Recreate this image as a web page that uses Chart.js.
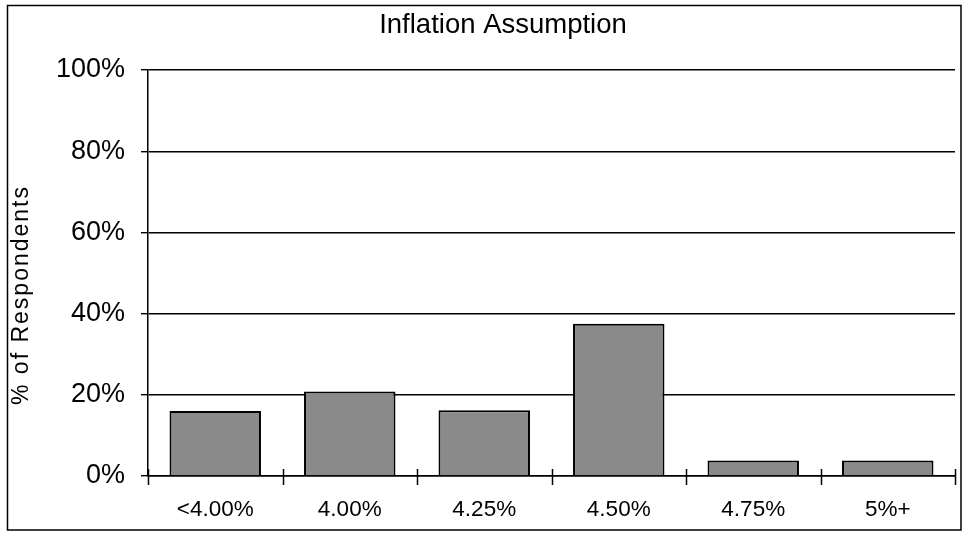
<!DOCTYPE html>
<html>
<head>
<meta charset="utf-8">
<script src="https://cdn.jsdelivr.net/npm/chart.js@4/dist/chart.umd.min.js"></script>
<style>
  html, body { margin: 0; padding: 0; background: #ffffff; }
  #wrap { width: 963px; height: 539px; position: relative; }
</style>
</head>
<body>
<div id="wrap"><canvas id="chart" width="963" height="539"></canvas></div>
<script>
// Survey answers: share of respondents by assumed inflation rate
const categories = ['<4.00%', '4.00%', '4.25%', '4.50%', '4.75%', '5%+'];
const respondentShare = [16.0, 20.8, 16.2, 37.5, 3.8, 3.8];
const yTickValues = [0, 20, 40, 60, 80, 100];
const yTickLabels = ['0%', '20%', '40%', '60%', '80%', '100%'];
const chartTitle = 'Inflation Assumption';
const yAxisTitle = '% of Respondents';

const FONT = '"Liberation Sans", Arial, sans-serif';

// Frame round the whole chart
const framePlugin = {
  id: 'frame',
  afterDraw(chart) {
    const ctx = chart.ctx;
    ctx.save();
    ctx.strokeStyle = '#000';
    ctx.lineWidth = 1.5;
    ctx.strokeRect(7.5, 5.5, 953.5, 524.5);
    ctx.restore();
  }
};

// Heading and vertical axis caption
const captionsPlugin = {
  id: 'captions',
  afterDraw(chart) {
    const ctx = chart.ctx;
    ctx.save();
    ctx.fillStyle = '#000';
    ctx.font = '27.5px ' + FONT;
    ctx.textAlign = 'center';
    ctx.textBaseline = 'alphabetic';
    ctx.fillText(chartTitle, 503, 33);
    ctx.restore();

    ctx.save();
    ctx.translate(22, 295);
    ctx.rotate(-Math.PI / 2);
    ctx.fillStyle = '#000';
    ctx.font = '23px ' + FONT;
    ctx.textAlign = 'center';
    ctx.textBaseline = 'middle';
    ctx.letterSpacing = '2px';
    ctx.fillText(yAxisTitle, 0, 0);
    ctx.restore();
  }
};

// Short tick marks crossing the category axis at each category boundary
const crossTicksPlugin = {
  id: 'crossTicks',
  afterDatasetsDraw(chart) {
    const xs = chart.scales.x;
    const ctx = chart.ctx;
    const y = chart.chartArea.bottom;
    ctx.save();
    ctx.strokeStyle = '#000';
    ctx.lineWidth = 1.5;
    for (let i = 0; i <= categories.length; i++) {
      const px = Math.round(xs.getPixelForValue(i - 0.5)) + 0.5;
      ctx.beginPath();
      ctx.moveTo(px, y - 7);
      ctx.lineTo(px, y + 9);
      ctx.stroke();
    }
    ctx.restore();
  }
};

new Chart(document.getElementById('chart'), {
  type: 'bar',
  data: {
    labels: categories,
    datasets: [{
      data: respondentShare,
      backgroundColor: '#8a8a8a',
      borderColor: '#000000',
      borderWidth: 2,
      barPercentage: 0.68,
      categoryPercentage: 1.0
    }]
  },
  options: {
    responsive: false,
    animation: false,
    layout: { padding: { left: 0, right: 8, top: 70, bottom: 0 } },
    plugins: {
      legend: { display: false },
      tooltip: { enabled: false },
      title: { display: false }
    },
    scales: {
      x: {
        offset: true,
        grid: { display: false, drawTicks: false },
        border: { display: true, color: '#000', width: 1.5 },
        ticks: {
          color: '#000',
          font: { family: FONT, size: 22.5 },
          padding: 20,
          maxRotation: 0
        },
        afterFit(scale) { scale.height = 63; }
      },
      y: {
        min: 0,
        max: 100,
        afterBuildTicks(scale) {
          scale.ticks = yTickValues.map(v => ({ value: v }));
        },
        grid: {
          color: '#000',
          lineWidth: 1.4,
          drawTicks: true,
          tickLength: 7
        },
        border: { display: true, color: '#000', width: 1.5 },
        ticks: {
          color: '#000',
          font: { family: FONT, size: 27 },
          padding: 16,
          callback(value) {
            const i = yTickValues.indexOf(value);
            return i >= 0 ? yTickLabels[i] : '';
          }
        },
        afterFit(scale) { scale.width = 148; }
      }
    }
  },
  plugins: [framePlugin, captionsPlugin, crossTicksPlugin]
});
</script>
</body>
</html>
